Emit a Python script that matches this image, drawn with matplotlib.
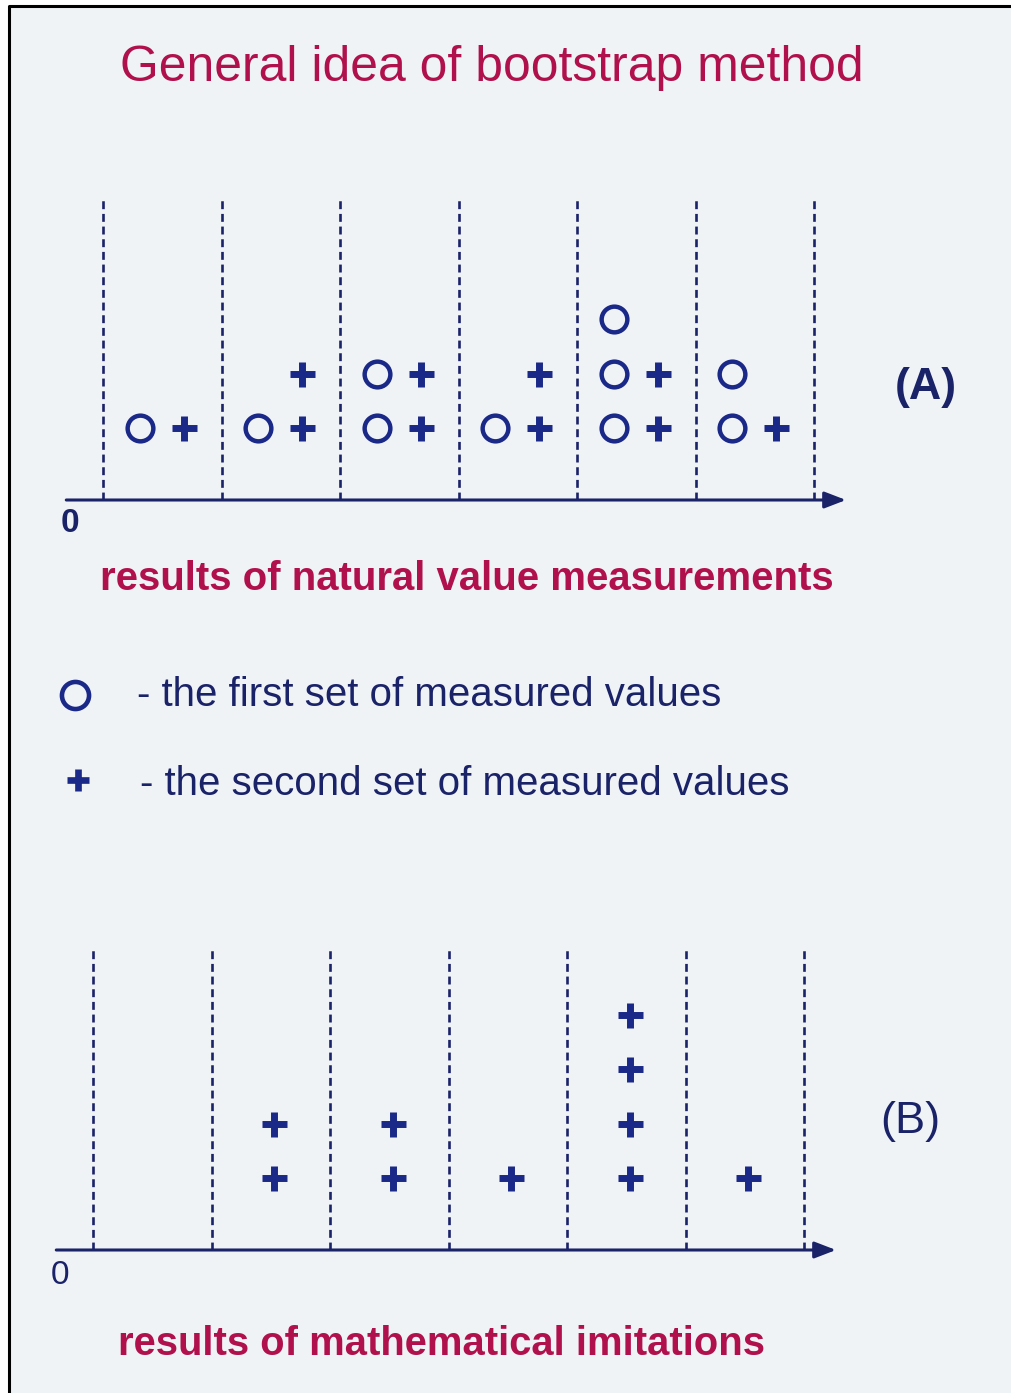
import matplotlib
matplotlib.use("Agg")
import matplotlib.pyplot as plt
from matplotlib.patches import Rectangle

# data: how many marks sit in each of the 6 intervals
n_bins = 6
a_circles = [1, 1, 2, 1, 3, 2]   # first set of measured values
a_pluses = [1, 2, 2, 2, 2, 1]    # second set of measured values
b_pluses = [0, 2, 2, 1, 4, 1]    # mathematical imitations

title_text = "General idea of bootstrap method"
a_caption = "results of natural value measurements"
b_caption = "results of mathematical imitations"
legend_circle = "- the first set of measured values"
legend_plus = "- the second set of measured values"

# colours
crimson = "#b0104c"
navy = "#1a2268"
mark_blue = "#1a2888"
paper = "#eff3f6"

W, H = 1011, 1393
fig = plt.figure(figsize=(W / 100, H / 100), dpi=100)
fig.patch.set_facecolor("white")

# background axes in pixel units for frame and text
bg = fig.add_axes([0, 0, 1, 1])
bg.set_xlim(0, W)
bg.set_ylim(H, 0)
bg.axis("off")
bg.add_patch(Rectangle((9, 6), W - 9, H - 6, facecolor=paper, edgecolor="none"))
bg.plot([9, 9, W], [H, 6, 6], color="black", lw=2.2, solid_capstyle="butt")

font = "Liberation Sans"
renderer = fig.canvas.get_renderer()


def fit_text(x, y, s, width_px, va="baseline", **kw):
    t = bg.text(x, y, s, ha="left", va=va, family=font, fontsize=30, **kw)
    w = t.get_window_extent(renderer).width
    t.set_fontsize(30 * width_px / w)
    return t


fit_text(120, 81, title_text, 742, color=crimson)
fit_text(100, 590, a_caption, 735, color=crimson, fontweight="bold")
fit_text(118, 1355, b_caption, 649, color=crimson, fontweight="bold")
fit_text(137, 706, legend_circle, 583, color=navy)
fit_text(140, 795, legend_plus, 648, color=navy)
fit_text(895, 388, "(A)", 62, va="center", color=navy, fontweight="bold")
fit_text(880, 1122, "(B)", 60, va="center", color=navy)
bg.text(70, 523, "0", ha="center", va="center", family=font, fontsize=24,
        color=navy, fontweight="bold")
bg.text(60, 1275, "0", ha="center", va="center", family=font, fontsize=24,
        color=navy)

# legend symbols
bg.plot([75], [695], marker="o", ms=19.5, mfc="none", mec=mark_blue, mew=3.3)
bg.plot([78], [780], marker="+", ms=16, mec=mark_blue, mew=4.8)

bin_px = 118.5
level_px = 54.5
first_level = 1.32


def make_panel(x0, y0):
    # x0: pixel x of first dashed line, y0: pixel y of the horizontal axis
    L, R, T, B = x0 - 70, x0 + 780, y0 - 320, y0 + 20
    ax = fig.add_axes([L / W, 1 - B / H, (R - L) / W, (B - T) / H])
    ax.set_xlim((L - x0) / bin_px, (R - x0) / bin_px)
    ax.set_ylim((y0 - B) / level_px, (y0 - T) / level_px)
    ax.axis("off")
    ax.vlines(range(n_bins + 1), 0, 5.58, colors=navy, lw=1.9,
              linestyles=(0, (3.0, 1.8)))
    ax.annotate("", xy=(6.27, 0), xytext=(-0.31, 0),
                arrowprops=dict(arrowstyle="-|>,head_length=0.65,head_width=0.25",
                                mutation_scale=20, color=navy, lw=2.2,
                                shrinkA=0, shrinkB=0))
    return ax


def stack(ax, counts, offset, marker):
    for i, n in enumerate(counts):
        for k in range(n):
            x = i + 0.5 + offset
            y = first_level + k
            if marker == "o":
                ax.plot(x, y, marker="o", ms=18.5, mfc="none", mec=mark_blue,
                        mew=3.2, ls="none")
            else:
                ax.plot(x, y, marker="+", ms=18, mec=mark_blue, mew=5.0,
                        ls="none")


ax_a = make_panel(103, 500)
stack(ax_a, a_circles, -0.19, "o")
stack(ax_a, a_pluses, 0.18, "+")

ax_b = make_panel(93, 1250)
stack(ax_b, b_pluses, 0.03, "+")

fig.savefig("out.png", dpi=100, facecolor=fig.get_facecolor())
